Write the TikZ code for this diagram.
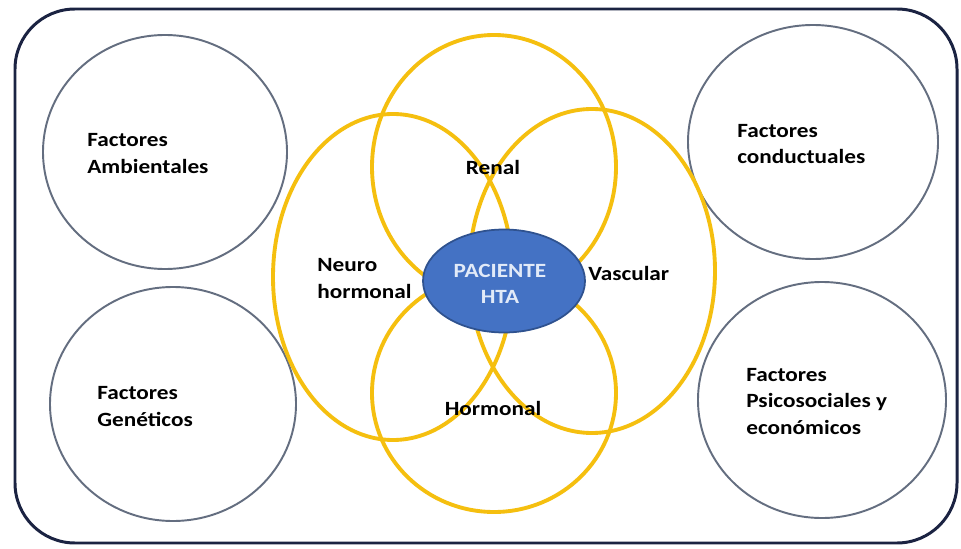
\documentclass[tikz,border=0pt]{standalone}
\usepackage{fontspec}
\setmainfont{Carlito}[FakeStretch=1.15]
\definecolor{marco}{HTML}{1B2342}
\definecolor{gris}{HTML}{646E80}
\definecolor{oro}{HTML}{F5BF0F}
\definecolor{azul}{HTML}{4472C4}
\definecolor{azulborde}{HTML}{2F528F}
\definecolor{letraclara}{HTML}{E2EAF8}
\begin{document}
\begin{tikzpicture}[line join=round, line cap=round,font=\fontsize{11.5}{15}\selectfont\bfseries,
	factor/.style={draw=gris,line width=1.1pt},
	sistema/.style={draw=oro,line width=2.2pt},
	rotulo/.style={inner sep=0pt,align=left,anchor=west}]
			\useasboundingbox (0,0) rectangle (19.22,10.96);
			\fill[white] (0,0) rectangle (19.22,10.96);
			\draw[marco,line width=1.7pt,rounded corners=1.2cm] (0.30,0.10) rectangle (19.14,10.78);
			% factores
			\draw[factor] (3.30,7.92) ellipse (2.44 and 2.34);
			\draw[factor] (3.46,2.88) ellipse (2.46 and 2.34);
			\draw[factor] (16.26,8.12) ellipse (2.50 and 2.34);
			\draw[factor] (16.44,2.96) ellipse (2.48 and 2.36);
			% sistemas
			\draw[sistema] (9.88,7.62) ellipse (2.44 and 2.64);
			\draw[sistema] (9.88,3.10) ellipse (2.44 and 2.38);
			\draw[sistema] (7.86,5.42) ellipse (2.40 and 3.26);
			\draw[sistema] (11.84,5.54) ellipse (2.46 and 3.24);
			\draw[fill=azul,draw=azulborde,line width=1pt] (10.08,5.34) ellipse (1.62 and 1.03);
			\draw (1.74,7.89)node[rotulo](amb){Factores\\Ambientales}
			(1.94,2.83)node[rotulo](gen){Factores\\Genéticos}
			(14.74,8.08)node[rotulo](cond){Factores\\conductuales}
			(14.92,2.93)node[rotulo](psi){Factores\\Psicosociales y\\económicos};
			\draw (9.86,7.62)node[inner sep=0pt](renal){Renal}
			(6.34,5.39)node[rotulo](neuro){Neuro\\hormonal}
			(11.76,5.50)node[rotulo](vasc){Vascular}
			(9.86,2.80)node[inner sep=0pt](horm){Hormonal};
			\draw (10.00,5.28)node[inner sep=0pt,align=center,text=letraclara](hta){PACIENTE\\HTA};
	\end{tikzpicture}
\end{document}
